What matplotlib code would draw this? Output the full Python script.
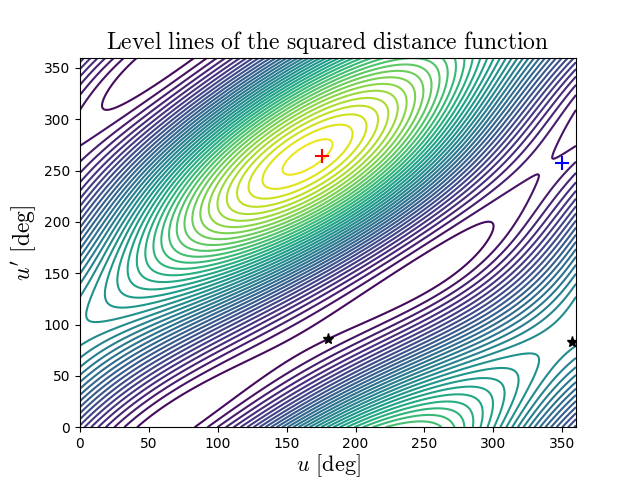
import numpy as np
import matplotlib
matplotlib.use("Agg")
import matplotlib.pyplot as plt

plt.rcParams['mathtext.fontset'] = 'cm'

# orbital elements (a, e, i, Omega, omega), angles in deg
orb1 = [1.0, 0.12, 0.0, 0.0, 0.0]
orb2 = [1.1, 0.3, 15.0, 0.0, 95.0]
# anomaly offsets (deg)
shift_u, shift_v = 52, 66
n_levels = 40
max_pt = (176, 264)
saddle_pt = (350, 257)
min_pts_u = [180, 357]
min_pts_v = [86, 83]


def position(el, E):
    a, e, i, Om, om = el
    i, Om, om = np.radians([i, Om, om])
    x = a * (np.cos(E) - e)
    y = a * np.sqrt(1 - e**2) * np.sin(E)
    co, so = np.cos(om), np.sin(om)
    xp, yp = co * x - so * y, so * x + co * y
    X = np.cos(Om) * xp - np.sin(Om) * np.cos(i) * yp
    Y = np.sin(Om) * xp + np.cos(Om) * np.cos(i) * yp
    Z = np.sin(i) * yp
    return X, Y, Z


u = np.linspace(0, 360, 400)
U, V = np.meshgrid(u, u)
p1 = position(orb1, np.radians(U - shift_u))
p2 = position(orb2, np.radians(V - shift_v))
D2 = sum((a - b)**2 for a, b in zip(p1, p2))

fig, ax = plt.subplots(figsize=(6.4, 4.8), dpi=100)
ax.contour(U, V, D2, levels=n_levels, cmap='viridis')
ax.plot(*max_pt, 'r+', ms=10, mew=1.5)
ax.plot(*saddle_pt, 'b+', ms=10, mew=1.5)
ax.plot(min_pts_u, min_pts_v, 'k*', ms=8)
ax.set_xlim(0, 360)
ax.set_ylim(0, 360)
ax.set_xlabel(r"$u$ $\mathrm{[deg]}$", fontsize=16, labelpad=1)
ax.set_ylabel(r"$u'$ $\mathrm{[deg]}$", fontsize=17)
ax.set_title(r"$\mathrm{Level\ lines\ of\ the\ squared\ distance\ function}$", fontsize=17)
fig.savefig("out.png")
